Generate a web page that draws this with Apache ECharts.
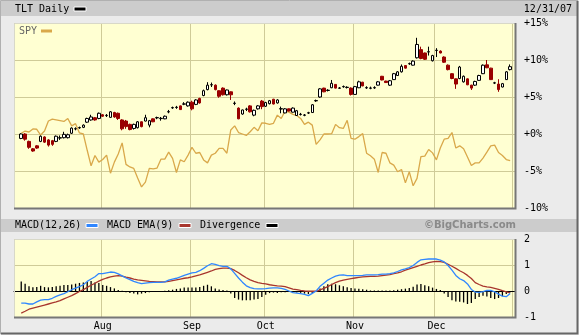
<!DOCTYPE html>
<html><head><meta charset="utf-8">
<script src="https://cdn.jsdelivr.net/npm/echarts@6/dist/echarts.min.js"></script>
<style>html,body{margin:0;padding:0;background:#ebebeb;}#c{width:579px;height:335px;}</style>
</head><body><div id="c"></div><script>
// ---------- data (percent change) ----------
const holidays = ['2007-07-04','2007-09-03','2007-11-22','2007-12-25'];
const monthNames = ['Jan','Feb','Mar','Apr','May','Jun','Jul','Aug','Sep','Oct','Nov','Dec'];
const priceTicks = [-10,-5,0,5,10,15];
const priceTickLabels = ['-10%','-5%','+0%','+5%','+10%','+15%'];
const macdTicks = [-1,0,1,2];
const macdTickLabels = ['-1','0','1','2'];

const tltOpen = [-0.6,0.0,-1.0,-2.0,-1.6,-1.0,-0.4,-0.8,-0.9,-1.0,
 -0.55,-0.5,-0.5,0.1,0.68,0.83,0.9,1.6,1.9,2.2,
 2.1,2.6,2.48,2.25,2.9,2.8,1.9,1.75,1.3,0.75,
 0.85,1.65,1.75,1.2,2.05,2.18,2.08,2.05,2.98,3.53,
 3.58,3.8,4.03,3.8,4.3,4.0,4.8,5.2,6.0,6.63,
 6.6,5.85,6.2,5.3,5.7,4.13,3.5,2.7,3.33,3.8,
 2.55,3.4,4.45,3.75,4.1,4.7,4.2,3.38,2.85,3.4,
 2.95,2.5,2.63,2.53,2.83,2.9,4.48,5.0,6.2,5.88,
 6.25,6.7,6.18,6.38,6.28,6.2,5.35,6.25,7.0,6.23,
 6.18,6.23,6.6,7.8,7.15,6.6,7.35,7.9,8.4,9.25,
 9.48,9.3,10.3,11.4,10.95,11.08,9.9,11.28,11.2,10.4,
 9.3,8.15,7.45,7.5,7.05,7.45,6.6,6.6,7.25,8.15,
 9.35,8.9,6.88,6.75,6.35,7.35,8.7];
const tltClose = [0.0,-0.7,-1.8,-2.3,-1.9,-0.3,-1.1,-1.5,-1.4,-0.3,
 -0.5,-0.05,-0.1,0.8,0.72,0.87,1.2,2.1,2.3,1.9,
 2.8,2.4,2.52,3.0,2.3,2.1,0.7,1.0,0.6,1.3,
 1.65,1.0,2.2,1.8,1.65,2.22,2.12,2.4,3.02,3.57,
 3.62,3.3,4.07,4.3,3.4,4.6,4.2,5.85,6.6,6.67,
 6.0,5.1,5.3,5.95,5.3,4.17,2.05,3.25,3.37,3.0,
 3.2,3.8,3.7,4.25,4.5,4.05,4.6,3.42,3.4,3.1,
 3.5,3.15,2.67,2.57,2.87,3.95,4.52,6.1,5.7,5.92,
 6.85,6.2,6.22,6.42,6.32,5.35,6.4,7.05,6.5,6.27,
 6.22,6.27,7.05,7.3,6.95,7.2,8.15,8.4,9.15,8.9,
 9.52,9.85,12.1,10.2,10.1,11.12,10.6,11.32,10.95,9.7,
 8.7,7.5,6.75,9.05,7.8,6.65,6.2,7.1,7.9,9.3,
 8.95,7.35,6.92,6.0,6.8,8.4,9.1];
const tltLow = [-0.7,-0.9,-2.0,-2.4,-2.0,-1.1,-1.2,-1.7,-1.6,-1.1,
 -0.8,-0.6,-0.6,0.0,0.5,0.7,0.8,1.5,1.8,1.8,
 2.0,2.3,2.3,2.2,2.2,1.9,0.5,0.7,0.5,0.6,
 0.75,0.9,1.7,0.9,1.6,2.0,1.8,2.0,2.8,3.4,
 3.4,3.25,3.9,3.7,3.2,3.9,4.1,5.1,5.9,6.35,
 5.9,4.9,5.2,5.2,4.6,3.9,2.0,2.6,3.1,2.9,
 2.4,3.3,3.35,3.65,4.0,4.0,4.1,2.8,2.8,3.05,
 2.9,2.45,2.5,2.4,2.7,2.85,4.35,4.9,5.65,5.75,
 6.2,6.15,6.1,6.25,6.15,5.2,5.3,6.2,6.45,6.1,
 6.05,6.1,6.55,7.25,6.9,6.5,7.3,7.85,8.3,8.85,
 9.35,9.25,10.2,10.1,10.0,10.6,9.8,10.4,10.9,9.6,
 8.6,7.4,6.1,7.4,6.95,6.6,5.95,6.5,7.2,8.1,
 8.9,7.3,6.75,5.7,6.3,7.3,8.6];
const tltHigh = [0.1,0.1,-0.9,-1.9,-1.5,-0.2,-0.3,-0.7,-0.8,-0.2,
 -0.2,0.3,0.05,0.9,0.9,1.0,1.3,2.2,2.6,2.3,
 2.9,2.7,2.7,3.1,3.0,2.9,2.0,1.9,1.4,1.4,
 1.75,1.7,2.6,1.9,2.1,2.35,2.3,2.5,3.25,3.7,
 3.8,3.85,4.3,4.4,4.5,4.7,4.9,6.0,7.0,6.95,
 6.7,5.9,6.3,6.0,5.75,4.4,3.6,3.3,3.55,3.9,
 3.3,3.9,4.6,4.35,4.6,4.75,4.7,3.7,3.5,3.45,
 3.6,3.25,2.85,2.7,3.0,4.05,4.65,6.2,6.25,6.05,
 7.3,6.75,6.35,6.55,6.45,6.3,6.5,7.2,7.05,6.45,
 6.4,6.45,7.15,7.85,7.2,7.3,8.25,8.5,9.4,9.3,
 9.65,9.95,13.0,11.8,11.0,11.8,10.7,11.6,11.3,10.5,
 9.4,8.2,7.5,9.2,7.9,7.5,6.65,7.2,8.0,9.4,
 10.0,8.95,7.05,7.4,6.9,8.5,9.4];
const spy = [0.1,0.4,0.27,0.68,0.64,-0.14,0.4,1.76,2.0,1.9,
 1.8,1.7,2.1,1.1,1.4,0.14,0.0,-2.2,-4.3,-2.9,
 -3.8,-3.45,-2.85,-5.3,-3.8,-2.7,-1.2,-4.1,-4.45,-4.65,
 -5.95,-7.15,-6.5,-4.65,-4.7,-4.6,-3.4,-3.4,-2.45,-3.3,
 -5.2,-3.5,-3.75,-2.85,-1.8,-2.6,-2.5,-3.5,-3.9,-2.85,
 -2.6,-1.95,-1.95,-2.6,0.55,1.1,0.2,0.0,-0.2,0.3,
 0.9,0.45,1.5,1.45,1.3,1.45,2.55,2.1,3.1,2.95,
 2.65,2.5,2.1,1.3,1.6,1.2,-1.4,-0.8,0.0,0.0,
 0.05,1.3,0.85,0.75,1.85,-0.6,-0.7,-0.35,0.05,-2.6,
 -2.95,-3.4,-5.2,-2.5,-2.6,-3.9,-4.2,-5.1,-4.8,-6.6,
 -5.1,-7.0,-6.0,-3.05,-3.0,-2.1,-2.55,-3.5,-1.9,-0.7,
 -0.6,0.2,-1.9,-1.6,-2.0,-3.1,-4.25,-3.9,-3.9,-3.25,
 -2.45,-1.6,-1.5,-2.5,-2.9,-3.45,-3.6];
const macd = [-0.47,-0.47,-0.5,-0.5,-0.42,-0.35,-0.33,-0.33,-0.28,-0.21,
 -0.15,-0.1,-0.03,0.05,0.11,0.17,0.24,0.37,0.46,0.55,
 0.67,0.67,0.7,0.73,0.72,0.66,0.58,0.5,0.44,0.37,
 0.32,0.28,0.3,0.32,0.33,0.33,0.33,0.35,0.42,0.46,
 0.49,0.54,0.6,0.65,0.7,0.72,0.78,0.87,0.97,1.05,
 1.02,0.98,0.95,0.95,0.85,0.68,0.5,0.34,0.2,0.13,
 0.09,0.08,0.08,0.09,0.11,0.12,0.12,0.1,0.06,0.0,
 -0.06,-0.08,-0.1,-0.13,-0.18,-0.09,0.0,0.18,0.3,0.42,
 0.5,0.57,0.61,0.62,0.59,0.59,0.59,0.59,0.6,0.62,
 0.62,0.62,0.63,0.65,0.65,0.67,0.7,0.75,0.81,0.85,
 0.9,0.98,1.1,1.2,1.22,1.23,1.23,1.23,1.19,1.12,
 0.98,0.8,0.6,0.47,0.4,0.27,0.06,-0.04,-0.05,-0.02,
 0.02,0.02,-0.03,-0.12,-0.2,-0.22,-0.1];
const macdEma = [-0.85,-0.78,-0.7,-0.66,-0.62,-0.58,-0.54,-0.5,-0.46,-0.42,
 -0.37,-0.3,-0.24,-0.18,-0.1,-0.02,0.05,0.14,0.22,0.3,
 0.38,0.45,0.5,0.54,0.57,0.59,0.57,0.53,0.5,0.46,
 0.43,0.41,0.39,0.37,0.36,0.35,0.35,0.35,0.37,0.4,
 0.43,0.46,0.49,0.51,0.54,0.58,0.62,0.67,0.72,0.77,
 0.83,0.86,0.88,0.88,0.86,0.79,0.7,0.6,0.51,0.43,
 0.37,0.32,0.29,0.27,0.24,0.22,0.2,0.19,0.17,0.12,
 0.07,0.05,0.02,0.0,-0.01,-0.01,-0.01,0.04,0.1,0.17,
 0.25,0.32,0.38,0.42,0.45,0.48,0.5,0.52,0.54,0.55,
 0.56,0.56,0.57,0.59,0.61,0.63,0.67,0.7,0.74,0.8,
 0.85,0.9,0.95,1.0,1.04,1.09,1.12,1.14,1.13,1.1,
 1.03,0.95,0.87,0.78,0.7,0.6,0.48,0.32,0.25,0.19,
 0.16,0.14,0.1,0.06,0.01,-0.03,-0.07];
const divergence = [0.37,0.28,0.18,0.14,0.15,0.2,0.15,0.14,0.15,0.18,
 0.2,0.23,0.23,0.25,0.28,0.31,0.33,0.35,0.38,0.33,
 0.31,0.23,0.2,0.15,0.1,0.04,0.01,-0.05,-0.08,-0.1,
 -0.13,-0.1,-0.08,-0.05,-0.04,-0.03,-0.01,0.01,0.03,0.05,
 0.08,0.1,0.13,0.13,0.13,0.13,0.15,0.2,0.24,0.18,
 0.1,0.06,0.04,0.02,-0.1,-0.27,-0.33,-0.36,-0.36,-0.36,
 -0.33,-0.31,-0.23,-0.14,-0.08,-0.06,-0.08,-0.05,-0.05,-0.04,
 -0.05,-0.06,-0.07,-0.1,-0.12,-0.08,-0.02,0.1,0.18,0.26,
 0.28,0.26,0.22,0.18,0.14,0.12,0.1,0.09,0.07,0.05,
 0.02,0.02,0.02,0.02,0.02,0.02,0.03,0.05,0.07,0.09,
 0.12,0.16,0.25,0.27,0.22,0.18,0.13,0.08,0.04,-0.1,
 -0.23,-0.36,-0.4,-0.41,-0.44,-0.5,-0.46,-0.31,-0.23,-0.18,
 -0.21,-0.27,-0.31,-0.27,-0.2,-0.12,-0.05];

// trading-day categories (weekdays minus market holidays)
const dates = [];
for (let d = new Date(Date.UTC(2007,6,2)); d <= new Date(Date.UTC(2007,11,31)); d.setUTCDate(d.getUTCDate()+1)) {
  const wd = d.getUTCDay(), s = d.toISOString().slice(0,10);
  if (wd !== 0 && wd !== 6 && holidays.indexOf(s) < 0) dates.push(s);
}
const monthStart = new Set();
dates.forEach((s,i)=>{ if (i>0 && s.slice(5,7)!==dates[i-1].slice(5,7)) monthStart.add(i); });

// ---------- layout ----------
const FONT = 'DejaVu Sans Mono';
const PL = 14, PW = 501;
const DL = 19.3, DW = 492.8;
const PT = 23, PH = 185, MT = 239, MH = 78;
const GRID = '#cfcb98';
const SPYC = '#d9a84a';

const chart = echarts.init(document.getElementById('c'), null, {renderer:'canvas'});
const catAxis = (gi, labels) => ({
  type:'category', gridIndex:gi, data:dates, boundaryGap:true,
  axisLine:{show:false}, axisTick:{show:false},
  axisLabel: labels ? {show:true, interval:(i)=>monthStart.has(i),
     formatter:(v)=>monthNames[+v.slice(5,7)-1], color:'#000', fontFamily:FONT, fontSize:10, margin:4}
     : {show:false},
  splitLine:{show:true, interval:(i)=>monthStart.has(i), lineStyle:{color:GRID, width:1}}
});
const hidY = (gi,min,max)=>({type:'value', gridIndex:gi, min, max, show:false});

chart.setOption({
  animation:false,
  backgroundColor:'#ebebeb',
  grid:[
    {left:PL, top:PT, width:PW, height:PH, show:true, backgroundColor:'#ffffd2', borderWidth:0},
    {left:DL, top:PT, width:DW, height:PH, show:false},
    {left:PL, top:MT, width:PW, height:MH, show:true, backgroundColor:'#ffffd2', borderWidth:0},
    {left:DL, top:MT, width:DW, height:MH, show:false}
  ],
  xAxis:[
    {type:'value', gridIndex:0, min:0, max:1, show:false},
    catAxis(1,false),
    {type:'value', gridIndex:2, min:0, max:1, axisLine:{show:true, onZero:true, lineStyle:{color:'#000', width:1}},
      axisTick:{show:false}, axisLabel:{show:false}, splitLine:{show:false}},
    catAxis(3,true)
  ],
  yAxis:[
    {type:'value', gridIndex:0, min:-10, max:15, interval:5, position:'right',
      axisLine:{show:false}, axisTick:{show:false},
      axisLabel:{color:'#000', fontFamily:FONT, fontSize:10, margin:9,
        formatter:(v)=>priceTickLabels[priceTicks.indexOf(v)]},
      splitLine:{show:true, lineStyle:{color:GRID, width:1}}},
    hidY(1,-10,15),
    {type:'value', gridIndex:2, min:-1, max:2, interval:1, position:'right',
      axisLine:{show:false}, axisTick:{show:false},
      axisLabel:{color:'#000', fontFamily:FONT, fontSize:10, margin:9,
        formatter:(v)=>macdTickLabels[macdTicks.indexOf(v)]},
      splitLine:{show:true, lineStyle:{color:GRID, width:1}}},
    hidY(3,-1,2)
  ],
  series:[
    {type:'line', name:'SPY', xAxisIndex:1, yAxisIndex:1, data:spy, showSymbol:false, symbol:'none',
      lineStyle:{color:SPYC, width:1.3}, z:2},
    {type:'candlestick', name:'TLT', xAxisIndex:1, yAxisIndex:1, barWidth:3,
      data: dates.map((d,i)=>[tltOpen[i], tltClose[i], tltLow[i], tltHigh[i]]),
      itemStyle:{color:'#ffffff', color0:'#9a0000', borderColor:'#000000', borderColor0:'#9a0000', borderWidth:1},
      z:3},
    {type:'bar', name:'Divergence', xAxisIndex:3, yAxisIndex:3, data:divergence, barWidth:1.3,
      itemStyle:{color:'#000'}, z:2},
    {type:'line', name:'MACD EMA(9)', xAxisIndex:3, yAxisIndex:3, data:macdEma, showSymbol:false, symbol:'none',
      lineStyle:{color:'#a8362e', width:1.3}, z:3},
    {type:'line', name:'MACD(12,26)', xAxisIndex:3, yAxisIndex:3, data:macd, showSymbol:false, symbol:'none',
      lineStyle:{color:'#2f86ff', width:1.3}, z:4}
  ],
  graphic:[
    // header bars
    {type:'rect', shape:{x:1,y:1,width:576,height:15}, style:{fill:'#cccccc'}, z:-5, silent:true},
    {type:'rect', shape:{x:1,y:219,width:576,height:13}, style:{fill:'#cccccc'}, z:-5, silent:true},
    // outer frame
    {type:'polyline', shape:{points:[[0.5,334],[0.5,0.5],[578,0.5]]}, style:{stroke:'#b0b0b0', lineWidth:1, fill:null}, z:50, silent:true},
    {type:'polyline', shape:{points:[[1,333.5],[577.5,333.5],[577.5,1]]}, style:{stroke:'#666', lineWidth:2, fill:null}, z:50, silent:true},
    // plot frames
    {type:'polyline', shape:{points:[[PL+0.5,PT+PH],[PL+0.5,PT+0.5],[PL+PW,PT+0.5]]}, style:{stroke:'#d8d8c8', lineWidth:1, fill:null}, z:50, silent:true},
    {type:'polyline', shape:{points:[[PL,PT+PH+0.5],[PL+PW+0.5,PT+PH+0.5],[PL+PW+0.5,PT]]}, style:{stroke:'#777', lineWidth:2, fill:null}, z:50, silent:true},
    {type:'polyline', shape:{points:[[PL+0.5,MT+MH],[PL+0.5,MT+0.5],[PL+PW,MT+0.5]]}, style:{stroke:'#d8d8c8', lineWidth:1, fill:null}, z:50, silent:true},
    {type:'polyline', shape:{points:[[PL,MT+MH+0.5],[PL+PW+0.5,MT+MH+0.5],[PL+PW+0.5,MT]]}, style:{stroke:'#777', lineWidth:2, fill:null}, z:50, silent:true},
    // header texts
    {type:'text', x:15, y:9, style:{text:'TLT Daily', font:'10px "DejaVu Sans Mono"', fill:'#000', verticalAlign:'middle'}, z:60},
    {type:'rect', shape:{x:74,y:7,width:12,height:4}, style:{fill:'#000', stroke:'#fff', lineWidth:1}, z:60},
    {type:'text', x:572, y:9, style:{text:'12/31/07', font:'10px "DejaVu Sans Mono"', fill:'#000', align:'right', verticalAlign:'middle'}, z:60},
    {type:'text', x:19, y:31, style:{text:'SPY', font:'10px "DejaVu Sans Mono"', fill:'#666', verticalAlign:'middle'}, z:60},
    {type:'rect', shape:{x:41,y:29.5,width:11,height:3}, style:{fill:SPYC}, z:60},
    {type:'text', x:15, y:225.5, style:{text:'MACD(12,26)', font:'10px "DejaVu Sans Mono"', fill:'#000', verticalAlign:'middle'}, z:60},
    {type:'rect', shape:{x:86,y:223.5,width:12,height:4}, style:{fill:'#2f86ff', stroke:'#fff', lineWidth:1}, z:60},
    {type:'text', x:107, y:225.5, style:{text:'MACD EMA(9)', font:'10px "DejaVu Sans Mono"', fill:'#000', verticalAlign:'middle'}, z:60},
    {type:'rect', shape:{x:179,y:223.5,width:12,height:4}, style:{fill:'#a8362e', stroke:'#fff', lineWidth:1}, z:60},
    {type:'text', x:200, y:225.5, style:{text:'Divergence', font:'10px "DejaVu Sans Mono"', fill:'#000', verticalAlign:'middle'}, z:60},
    {type:'rect', shape:{x:266,y:223.5,width:12,height:4}, style:{fill:'#000', stroke:'#fff', lineWidth:1}, z:60},
    {type:'text', x:516, y:225.5, style:{text:'©BigCharts.com', font:'bold 10px "DejaVu Sans"', fill:'#8a8a8a', align:'right', verticalAlign:'middle'}, z:60}
  ]
});
</script></body></html>
